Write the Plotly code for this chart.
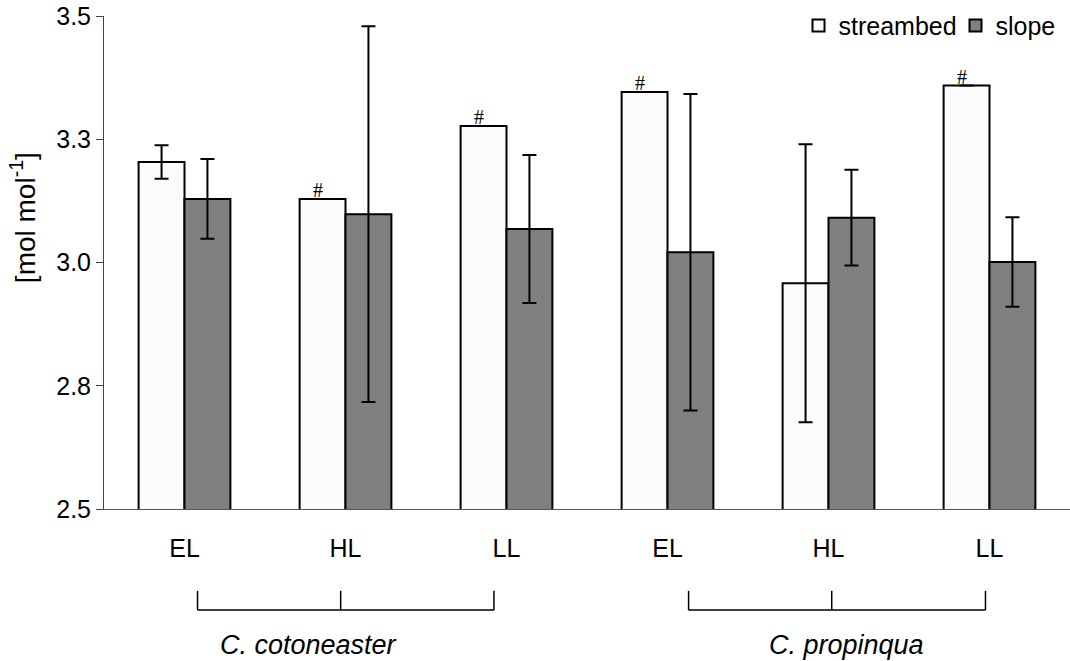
import plotly.graph_objects as go

# Light level per site, two species with three sites each
levels = ["EL", "HL", "LL", "EL", "HL", "LL"]
species = ["C. cotoneaster", "C. propinqua"]

# Means and error for the two habitats
streambed = [3.204, 3.129, 3.277, 3.346, 2.958, 3.359]
streambed_err = [0.034, 0.0, 0.0, 0.0, 0.282, 0.0]
slope = [3.129, 3.098, 3.068, 3.021, 3.091, 3.001]
slope_err = [0.081, 0.381, 0.150, 0.321, 0.097, 0.091]
marked = [False, True, True, True, False, True]

y_ticks = [2.5, 2.75, 3.0, 3.25, 3.5]
y_ticktext = ["2.5", "2.8", "3.0", "3.3", "3.5"]

FONT = "Liberation Sans, Arial, sans-serif"
FS = 25
BARGAP = 0.43
x = list(range(len(levels)))

fig = go.Figure()
fig.add_trace(go.Bar(
    x=x, y=streambed, name="streambed",
    marker=dict(color="#fbfbfb", line=dict(color="black", width=2)),
    error_y=dict(type="data", array=streambed_err, visible=True,
                 color="black", thickness=2, width=7),
))
fig.add_trace(go.Bar(
    x=x, y=slope, name="slope",
    marker=dict(color="#808080", line=dict(color="black", width=2)),
    error_y=dict(type="data", array=slope_err, visible=True,
                 color="black", thickness=2, width=7),
))

# "#" above marked streambed bars (streambed bar sits left of each pair)
bar_w = (1 - BARGAP) / 2
annotations = []
for i, flag in enumerate(marked):
    if flag:
        annotations.append(dict(text="#", x=i - bar_w / 2, xref="x", y=streambed[i], yref="y",
                                showarrow=False, xanchor="center", yanchor="bottom",
                                xshift=-5, yshift=-4,
                                font=dict(family="Liberation Serif, Times New Roman, serif",
                                          size=20, color="black")))

# Brackets grouping the sites of each species
shapes = []
for left, mid, right in [(0.081, 0.97, 1.922), (3.131, 4.02, 4.975)]:
    y_top, y_bot = -0.166, -0.205
    shapes.append(dict(type="line", xref="x", yref="paper", x0=left, x1=right,
                       y0=y_bot, y1=y_bot, line=dict(color="black", width=1.5)))
    for xv in (left, mid, right):
        shapes.append(dict(type="line", xref="x", yref="paper", x0=xv, x1=xv,
                           y0=y_top, y1=y_bot, line=dict(color="black", width=1.5)))

for name, xc in zip(species, [0.77, 4.11]):
    annotations.append(dict(text=f"<i>{name}</i>", x=xc, xref="x", y=-0.276, yref="paper",
                            showarrow=False, xanchor="center", yanchor="middle",
                            font=dict(family=FONT, size=27, color="black")))

# Unit label on the value axis
annotations.append(dict(text="[mol mol<sup>-1</sup>]", x=0, xref="paper", xshift=-81,
                        y=0.59, yref="paper", textangle=-90, showarrow=False,
                        xanchor="center", yanchor="middle",
                        font=dict(family=FONT, size=28, color="black")))

fig.update_layout(
    width=1070, height=661,
    margin=dict(l=104, r=0, t=16, b=152, autoexpand=False),
    paper_bgcolor="white", plot_bgcolor="white",
    barmode="group", bargap=BARGAP, bargroupgap=0,
    font=dict(family=FONT, size=FS, color="black"),
    showlegend=True,
    legend=dict(orientation="h", x=1.044, xanchor="right", y=1.027, yanchor="top",
                font=dict(family=FONT, size=FS, color="black"),
                entrywidth=112, entrywidthmode="pixels",
                itemwidth=30, bgcolor="rgba(0,0,0,0)", traceorder="normal"),
    shapes=shapes, annotations=annotations,
)
fig.update_xaxes(
    range=[-0.5, 5.5], tickvals=x, ticktext=levels, showgrid=False, zeroline=False,
    showline=True, linecolor="#555555", linewidth=1, ticks="",
    ticklabelstandoff=17, tickfont=dict(family=FONT, size=FS, color="black"),
)
fig.update_yaxes(
    range=[2.5, 3.5], tickvals=y_ticks, ticktext=y_ticktext, showgrid=False, zeroline=False,
    showline=True, linecolor="#444444", linewidth=1, ticks="outside", ticklen=7,
    tickcolor="#444444", tickfont=dict(family=FONT, size=FS, color="black"),
)

fig.write_html("out.html")
